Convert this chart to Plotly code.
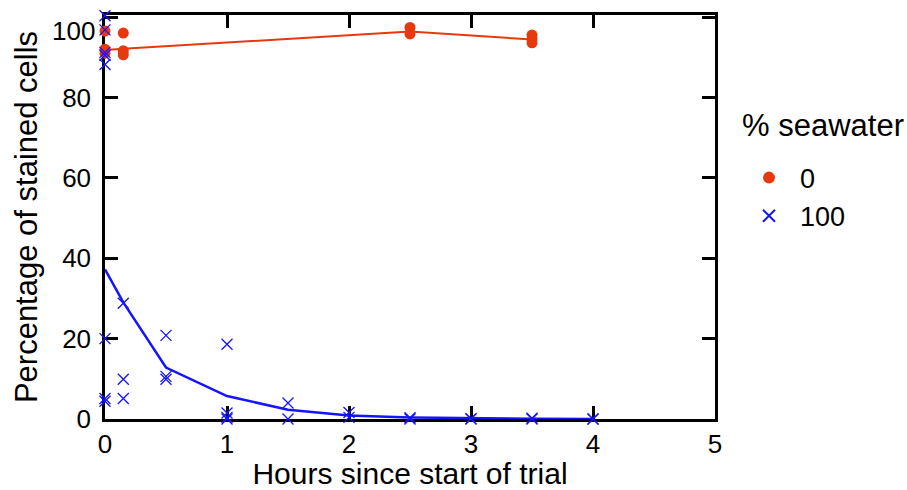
import plotly.graph_objects as go

# ---- data ----
red_x = [0, 0, 0, 0.15, 0.15, 0.15, 2.5, 2.5, 3.5, 3.5, 3.5]
red_y = [96.5, 92.0, 91.0, 96.0, 91.6, 90.6, 97.4, 95.8, 95.5, 94.5, 93.6]
red_line_x = [0, 0.15, 2.5, 3.5]
red_line_y = [91.8, 92.1, 96.4, 94.4]

blue_x = [0, 0, 0, 0, 0, 0, 0, 0,
          0.15, 0.15, 0.15,
          0.5, 0.5, 0.5,
          1, 1, 1, 1,
          1.5, 1.5,
          2, 2,
          2.5, 2.5,
          3, 3,
          3.5, 3.5,
          4, 4]
blue_y = [100.3, 96.8, 91.2, 90.5, 88.2, 20.0, 5.1, 4.4,
          28.8, 9.9, 5.1,
          20.8, 10.6, 9.9,
          18.6, 1.5, 0.4, 0.0,
          4.0, 0.0,
          1.6, 0.4,
          0.3, 0.0,
          0.1, 0.0,
          0.2, 0.0,
          0.0, 0.0]
blue_line_x = [0, 0.15, 0.5, 1, 1.5, 2, 2.5, 3, 3.5, 4]
blue_line_y = [37.2, 29.0, 12.8, 5.7, 2.3, 0.9, 0.4, 0.15, 0.05, 0.0]

x_ticks = [0, 1, 2, 3, 4, 5]
y_ticks = [0, 20, 40, 60, 80, 100]
y_ticktext = ["0", "20", "40", "60", "80", ""]

RED = "#e8380d"
BLUE = "#1414ff"
FONT = "Liberation Sans, Arial, sans-serif"
TICK_SIZE = 26
TITLE_SIZE = 31

fig = go.Figure()
fig.add_trace(go.Scatter(x=red_line_x, y=red_line_y, mode="lines",
                         line=dict(color=RED, width=2), showlegend=False,
                         cliponaxis=False, hoverinfo="skip"))
fig.add_trace(go.Scatter(x=blue_line_x, y=blue_line_y, mode="lines",
                         line=dict(color=BLUE, width=2.5), showlegend=False,
                         cliponaxis=False, hoverinfo="skip"))
fig.add_trace(go.Scatter(x=red_x, y=red_y, mode="markers", name="0",
                         marker=dict(symbol="circle", size=11, color=RED),
                         cliponaxis=False))
fig.add_trace(go.Scatter(x=blue_x, y=blue_y, mode="markers", name="100",
                         marker=dict(symbol="x-thin-open", size=11, color=BLUE,
                                     line=dict(color=BLUE, width=1.3)),
                         cliponaxis=False))

axis_common = dict(showline=True, linecolor="black", linewidth=2.5,
                   mirror="ticks", ticks="inside", ticklen=13, tickwidth=2.5,
                   tickcolor="black", showgrid=False, zeroline=False,
                   layer="below traces", automargin=False,
                   tickfont=dict(family=FONT, size=TICK_SIZE, color="black"))

fig.update_xaxes(range=[0, 5], tickvals=x_ticks,
                 title_text="Hours since start of trial", title_standoff=6,
                 title_font=dict(family=FONT, size=30, color="black"),
                 ticklabelstandoff=0, **axis_common)
fig.update_yaxes(range=[0, 100.5], tickvals=y_ticks, ticktext=y_ticktext,
                 title_text="Percentage of stained cells", title_standoff=16,
                 title_font=dict(family=FONT, size=TITLE_SIZE, color="black"),
                 ticklabelstandoff=6, **axis_common)

fig.add_annotation(text="100", x=0, xref="paper", y=100, yref="y",
                   xanchor="right", yanchor="middle", xshift=-8, yshift=-14,
                   showarrow=False,
                   font=dict(family=FONT, size=TICK_SIZE, color="black"))
fig.add_annotation(text="% seawater", x=(740 - 105) / 610, xref="paper",
                   y=(419 - 125) / 404, yref="paper",
                   xanchor="left", yanchor="middle", showarrow=False,
                   font=dict(family=FONT, size=TITLE_SIZE, color="black"))

fig.update_layout(
    width=907, height=490,
    margin=dict(l=105, r=192, t=15, b=71),
    paper_bgcolor="white", plot_bgcolor="white",
    font=dict(family=FONT, size=TICK_SIZE, color="black"),
    legend=dict(x=(738 - 105) / 610, y=0.657, xanchor="left", yanchor="top",
                font=dict(family=FONT, size=27, color="black"),
                bgcolor="rgba(0,0,0,0)", itemwidth=52,
                itemsizing="constant"),
)

fig.write_html("out.html")
